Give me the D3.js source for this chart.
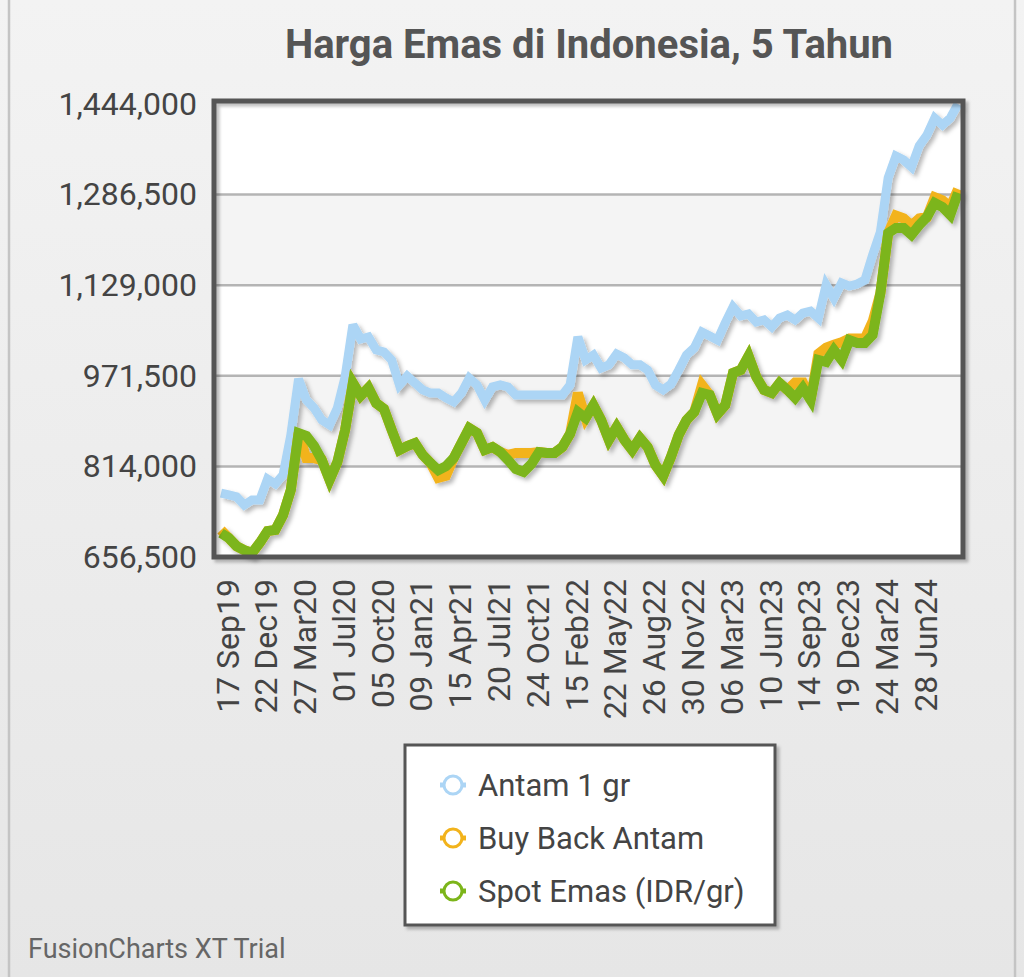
<!DOCTYPE html>
<html>
<head>
<meta charset="utf-8">
<script src="https://cdn.jsdelivr.net/npm/d3@7"></script>
<style>
  html, body { margin: 0; padding: 0; background: #eeeeee; }
  svg { display: block; font-family: Roboto, "Noto Sans", sans-serif; }
</style>
</head>
<body>
<svg id="chart" width="1024" height="977"></svg>
<script>
const title = "Harga Emas di Indonesia, 5 Tahun";
const seriesNames = ["Antam 1 gr", "Buy Back Antam", "Spot Emas (IDR/gr)"];
const seriesColors = ["#acd5f5", "#f2b31c", "#7cb51a"];
const yTicks = [656500, 814000, 971500, 1129000, 1286500, 1444000];
const xLabels = ["17 Sep19","22 Dec19","27 Mar20","01 Jul20","05 Oct20","09 Jan21","15 Apr21","20 Jul21","24 Oct21","15 Feb22","22 May22","26 Aug22","30 Nov22","06 Mar23","10 Jun23","14 Sep23","19 Dec23","24 Mar24","28 Jun24"];
const labelEvery = 5;

const antam = [767500,764500,761000,747000,755500,755500,792000,783500,799000,868500,
  966000,929500,915500,894500,886000,915500,969500,1060000,1035500,1039000,
  1016500,1013000,999000,955500,971000,959000,947000,941500,941500,933000,
  926000,941500,967500,955500,929500,952000,955500,952000,938000,938000,
  938000,938000,938000,938000,938000,955500,1039000,999000,1007500,985000,
  990500,1009500,1002500,990500,990500,981500,955500,947000,957000,981500,
  1007500,1020000,1047500,1040500,1033500,1063500,1091000,1075500,1079000,1065000,
  1068500,1056500,1072000,1077000,1068500,1080500,1084000,1072000,1129500,1106500,
  1133000,1127500,1131000,1138000,1181500,1221500,1315500,1353500,1346500,1334500,
  1371000,1390000,1419500,1407500,1419500,1444000];

const buyback = [703500,689500,675500,668500,663500,681000,701500,703500,729500,773000,
  872000,828500,828500,825000,790500,821500,877500,959000,936500,950500,
  924000,914000,877500,842500,849500,854500,834000,820000,794000,797500,
  828500,854500,880500,872000,842500,847500,839000,834000,837500,837500,
  837500,839000,837500,837500,847500,870500,941500,898000,920500,894500,
  860000,882500,860000,842500,863500,847500,816500,797500,830500,868500,
  894500,908500,955500,938000,905000,920500,976500,981500,1006000,969500,
  947000,941500,959000,947000,960000,960000,929500,1010000,1020500,1025500,
  1030000,1036500,1036500,1036500,1066000,1115500,1219500,1250000,1245000,1233000,
  1245000,1247500,1282000,1276500,1264500,1296000];

const spot = [698000,689500,675500,668500,663500,681000,701500,703500,729500,773000,
  872000,867000,849500,825000,790500,821500,877500,959000,936500,950500,
  924000,914000,877500,842500,849500,854500,834000,820000,807500,814500,
  828500,854500,880500,872000,842500,847500,839000,825000,809500,804500,
  818000,839000,837500,837500,847500,870500,908500,898000,920500,894500,
  860000,882500,860000,842500,863500,847500,816500,797500,830500,868500,
  894500,908500,941500,938000,905000,920500,976500,981500,1006000,969500,
  947000,941500,959000,947000,933000,950500,929500,999000,995500,1016500,
  999000,1033500,1028500,1028500,1042500,1115500,1219500,1228500,1228500,1216500,
  1233500,1247500,1272000,1265000,1251000,1289500];

const allSeries = [antam, buyback, spot];

const W = 1024, H = 977;
const plot = { left: 214, right: 963, top: 104, bottom: 557 };
const svg = d3.select("#chart");

const defs = svg.append("defs");
const bg = defs.append("linearGradient").attr("id", "bgGrad").attr("x1", 0).attr("y1", 0).attr("x2", 0).attr("y2", 1);
bg.append("stop").attr("offset", "0%").attr("stop-color", "#f3f3f3");
bg.append("stop").attr("offset", "100%").attr("stop-color", "#e6e6e6");
const sh = defs.append("filter").attr("id", "shadow").attr("x", "-5%").attr("y", "-5%").attr("width", "115%").attr("height", "115%");
sh.append("feDropShadow").attr("dx", 3).attr("dy", 3).attr("stdDeviation", 2)
  .attr("flood-color", "#000").attr("flood-opacity", 0.28);
const sh2 = defs.append("filter").attr("id", "boxShadow").attr("x", "-5%").attr("y", "-5%").attr("width", "115%").attr("height", "115%");
sh2.append("feDropShadow").attr("dx", 3).attr("dy", 3).attr("stdDeviation", 1.5)
  .attr("flood-color", "#000").attr("flood-opacity", 0.25);

// background
svg.append("rect").attr("x", 0).attr("y", 0).attr("width", W).attr("height", H).attr("fill", "url(#bgGrad)");
svg.append("rect").attr("x", 9).attr("y", -4).attr("width", 1006).attr("height", H + 8)
  .attr("fill", "none").attr("stroke", "#c4c4c4").attr("stroke-width", 2.5);

// title
svg.append("text").attr("x", 589).attr("y", 58).attr("text-anchor", "middle")
  .attr("font-size", 40).attr("font-weight", "bold").attr("fill", "#555555").text(title);

// scales
const n = antam.length;
const x = d3.scalePoint().domain(d3.range(n)).range([221, 958]);
const y = d3.scaleLinear().domain([yTicks[0], yTicks[yTicks.length - 1]]).range([plot.bottom, plot.top]);

// plot background + bands
svg.append("rect").attr("x", plot.left).attr("y", plot.top).attr("width", plot.right - plot.left)
  .attr("height", plot.bottom - plot.top).attr("fill", "#ffffff");
const bands = d3.pairs(yTicks);
svg.append("g").selectAll("rect").data(bands).join("rect")
  .attr("x", plot.left).attr("width", plot.right - plot.left)
  .attr("y", d => y(d[1])).attr("height", d => y(d[0]) - y(d[1]))
  .attr("fill", (d, i) => i % 2 === 1 ? "#f4f4f4" : "#ffffff");

// grid
svg.append("g").selectAll("line").data(yTicks.slice(1, -1)).join("line")
  .attr("x1", plot.left).attr("x2", plot.right)
  .attr("y1", d => y(d)).attr("y2", d => y(d))
  .attr("stroke", "#b4b4b4").attr("stroke-width", 2.5);

// y axis labels
const yAxis = d3.axisLeft(y).tickValues(yTicks).tickSize(0).tickPadding(0).tickFormat(d3.format(","));
const yg = svg.append("g").attr("transform", `translate(${plot.left - 17},0)`).call(yAxis);
yg.select(".domain").remove();
yg.selectAll("text").attr("font-size", 32).attr("fill", "#444444")
  .attr("font-family", "Roboto, sans-serif");

// x axis labels (rotated)
const xg = svg.append("g");
xg.selectAll("text").data(xLabels).join("text")
  .attr("transform", (d, i) => `translate(${x(i * labelEvery) + 6},579) rotate(-90)`)
  .attr("text-anchor", "end").attr("dy", "0.36em")
  .attr("font-size", 32).attr("fill", "#444444").text(d => d);

// lines
const line = d3.line().x((d, i) => x(i)).y(d => y(d));
const widths = [9, 10, 10];
const lg = svg.append("g").attr("filter", "url(#shadow)");
allSeries.forEach((s, k) => {
  lg.append("path").datum(s).attr("d", line).attr("fill", "none")
    .attr("stroke", seriesColors[k]).attr("stroke-width", widths[k])
    .attr("stroke-linejoin", "miter").attr("stroke-miterlimit", 3);
});

// plot border
svg.append("rect").attr("x", plot.left).attr("y", plot.top - 3).attr("width", plot.right - plot.left)
  .attr("height", plot.bottom - plot.top + 3).attr("fill", "none")
  .attr("stroke", "#555555").attr("stroke-width", 5).attr("filter", "url(#boxShadow)");

// legend
const leg = svg.append("g");
leg.append("rect").attr("x", 405).attr("y", 745).attr("width", 370).attr("height", 180)
  .attr("fill", "#ffffff").attr("stroke", "#555555").attr("stroke-width", 3).attr("filter", "url(#boxShadow)");
const rows = leg.selectAll("g.item").data(seriesNames).join("g").attr("class", "item")
  .attr("transform", (d, i) => `translate(0,${785 + i * 53})`);
rows.append("line").attr("x1", 440).attr("x2", 466).attr("y1", 0).attr("y2", 0)
  .attr("stroke", (d, i) => seriesColors[i]).attr("stroke-width", 5);
rows.append("circle").attr("cx", 453).attr("cy", 0).attr("r", 9)
  .attr("fill", "#ffffff").attr("stroke", (d, i) => seriesColors[i]).attr("stroke-width", 3);
rows.append("text").attr("x", 478).attr("y", 0).attr("dy", "0.36em")
  .attr("font-size", 31).attr("fill", "#444444").text(d => d);

// footer
svg.append("text").attr("x", 28).attr("y", 958).attr("font-size", 27).attr("fill", "#666666")
  .text("FusionCharts XT Trial");
</script>
</body>
</html>
